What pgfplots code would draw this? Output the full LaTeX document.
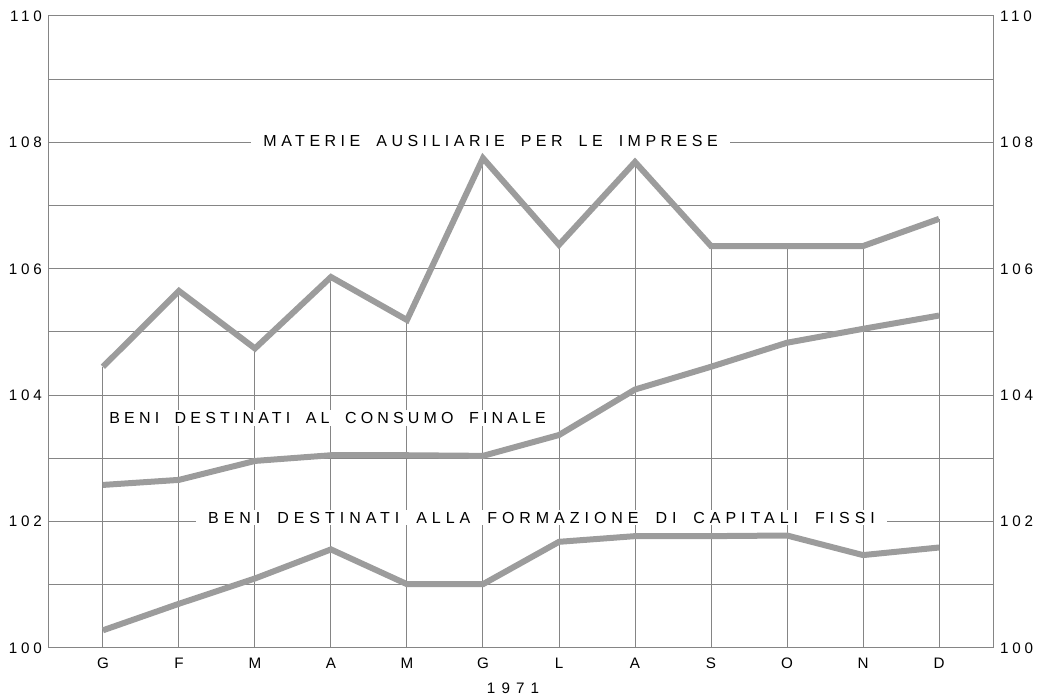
\documentclass[border=0pt]{standalone}
\usepackage{fontspec}
\setmainfont{Liberation Sans}
\newfontfamily\spacedfont[LetterSpace=28,WordSpace=1.8]{Liberation Sans}
\newfontfamily\spacedfontb[LetterSpace=26,WordSpace=1.8]{Liberation Sans}
\newfontfamily\spacedfontc[LetterSpace=31,WordSpace=1.8]{Liberation Sans}
\newfontfamily\tickfont[LetterSpace=25]{Liberation Sans}
\newfontfamily\yearfont[LetterSpace=40]{Liberation Sans}
\usepackage{pgfplots}
\pgfplotsset{compat=1.18}
\definecolor{ser}{HTML}{9C9C9C}
\definecolor{grd}{HTML}{858585}

\pgfplotstableread{
x  mat    cons   cap
1  104.45 102.58 100.28
2  105.65 102.66 100.70
3  104.74 102.96 101.10
4  105.87 103.05 101.56
5  105.19 103.05 101.01
6  107.75 103.04 101.01
7  106.38 103.37 101.68
8  107.69 104.09 101.77
9  106.36 104.45 101.77
10 106.36 104.83 101.78
11 106.36 105.05 101.47
12 106.79 105.26 101.59
}\datatable

\begin{document}
\begin{tikzpicture}
\useasboundingbox (-24.5pt,-24pt) rectangle (498pt,324pt);
\begin{axis}[
  name=main, at={(0,0)}, anchor=south west,
  scale only axis, width=472pt, height=316pt,
  xmin=0.29, xmax=12.71, ymin=100, ymax=110,
  xtick={1,...,12}, xticklabels={G,F,M,A,M,G,L,A,S,O,N,D},
  ytick={100,102,...,110}, minor ytick={101,103,...,109},
  ymajorgrids, yminorgrids,
  major grid style={grd, line width=0.5pt},
  minor grid style={grd, line width=0.5pt},
  major tick length=0pt, minor tick length=0pt,
  axis line style={grd, line width=0.5pt},
  yticklabel pos=left,
  tick label style={font=\tickfont\fontsize{7.6}{8}\selectfont},
  xticklabel style={yshift=-1.5pt},
  /pgf/number format/assume math mode=true,
  /pgf/number format/1000 sep={},
]
\addplot[ycomb, grd, line width=0.5pt, mark=none] table[x=x, y=mat] {\datatable};
\addplot[ser, line width=3pt, mark=none] table[x=x, y=mat] {\datatable};
\addplot[ser, line width=3pt, mark=none] table[x=x, y=cons] {\datatable};
\addplot[ser, line width=3pt, mark=none] table[x=x, y=cap] {\datatable};
\node[fill=white, inner xsep=6pt, inner ysep=1pt, font=\spacedfont\fontsize{8}{9}\selectfont]
  at (axis cs:6.10,108.02) {MATERIE AUSILIARIE PER LE IMPRESE};
\node[fill=white, anchor=west, inner xsep=1.5pt, inner ysep=1pt, font=\spacedfontb\fontsize{8}{9}\selectfont]
  at (axis cs:1.04,103.64) {BENI DESTINATI AL CONSUMO FINALE};
\node[fill=white, inner xsep=6pt, inner ysep=1pt, font=\spacedfontc\fontsize{8}{9}\selectfont]
  at (axis cs:6.77,102.06) {BENI DESTINATI ALLA FORMAZIONE DI CAPITALI FISSI};
\end{axis}
\begin{axis}[
  at={(0,0)}, anchor=south west,
  scale only axis, width=472pt, height=316pt,
  xmin=0.29, xmax=12.71, ymin=100, ymax=110,
  axis x line=none, axis y line*=right,
  ytick={100,102,...,110},
  major tick length=0pt,
  axis line style={grd, line width=0.5pt},
  tick label style={font=\tickfont\fontsize{7.6}{8}\selectfont},
  /pgf/number format/assume math mode=true,
]
\addplot[draw=none] coordinates {(1,100)};
\end{axis}
\node[font=\yearfont\fontsize{7.6}{8}\selectfont] at ([xshift=-4pt,yshift=-20pt]main.south) {1971};
\end{tikzpicture}
\end{document}
